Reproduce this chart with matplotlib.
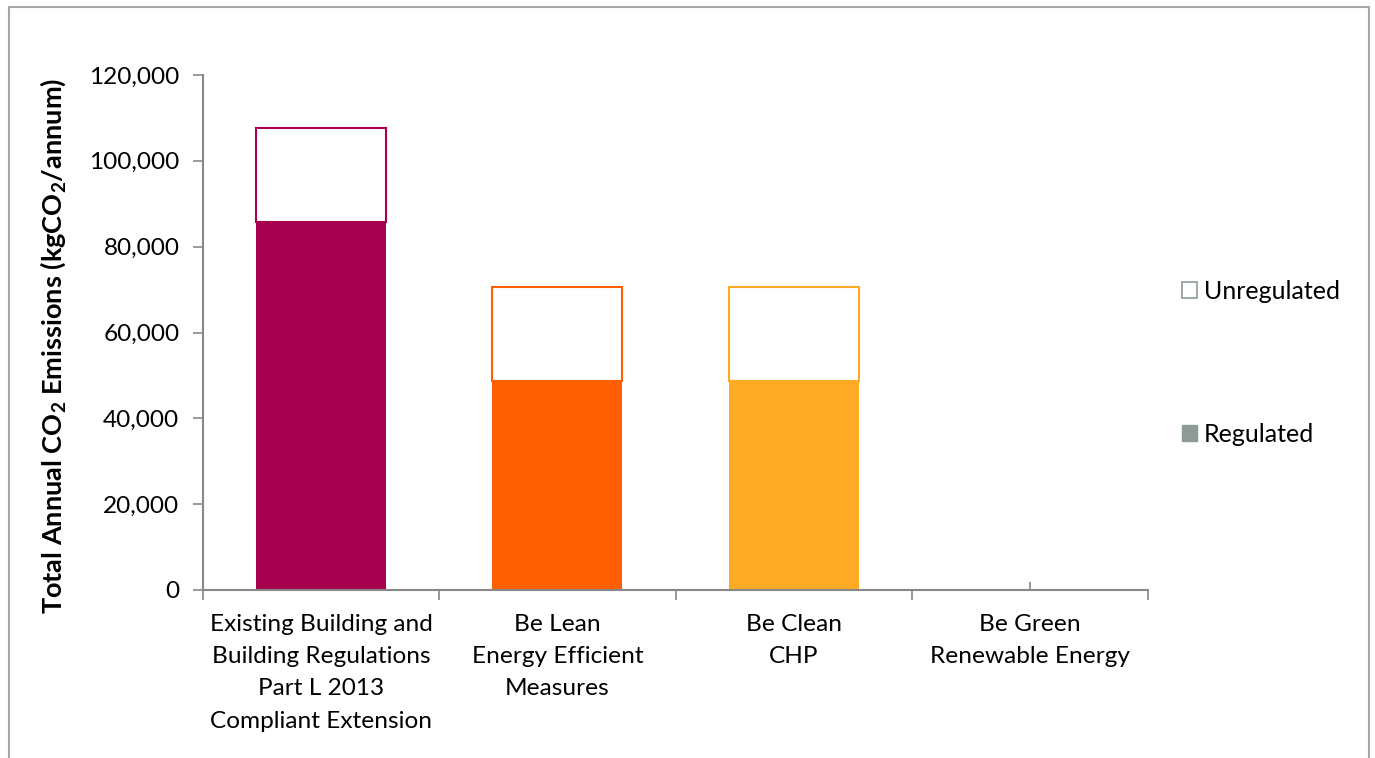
import matplotlib
matplotlib.use("Agg")
import matplotlib.pyplot as plt
from matplotlib.patches import Patch, Rectangle
from matplotlib.ticker import FuncFormatter, FixedLocator
import numpy as np

plt.rcParams['font.family'] = ['Lato', 'DejaVu Sans']
plt.rcParams['mathtext.fontset'] = 'custom'
plt.rcParams['mathtext.bf'] = 'Lato:bold'
plt.rcParams['mathtext.rm'] = 'Lato'

categories = [
    "Existing Building and\nBuilding Regulations\nPart L 2013\nCompliant Extension",
    "Be Lean\nEnergy Efficient\nMeasures",
    "Be Clean\nCHP",
    "Be Green\nRenewable Energy",
]
regulated = [85700, 48600, 48600, 0]
unregulated = [22000, 21900, 21900, 0]
bar_colors = ["#A8004F", "#FF5F00", "#FEAA25", "#7AB648"]
yticks = [0, 20000, 40000, 60000, 80000, 100000, 120000]

W, H = 1375, 758
fig = plt.figure(figsize=(W / 100, H / 100), dpi=100)
ax = fig.add_axes([203 / W, 1 - 590 / H, (1148 - 203) / W, (590 - 75) / H])

x = np.arange(len(categories))
lw = [1.5 if v > 0 else 0 for v in unregulated]
ax.bar(x, regulated, width=0.55, color=bar_colors, linewidth=0, zorder=2)
ax.bar(x, unregulated, bottom=regulated, width=0.55, color="white",
       edgecolor=bar_colors, linewidth=lw, zorder=2)

ax.set_xlim(-0.5, len(categories) - 0.5)
ax.set_ylim(yticks[0], yticks[-1])
ax.set_yticks(yticks)
ax.yaxis.set_major_formatter(FuncFormatter(lambda v, p: f"{v:,.0f}"))

# boundaries as major ticks (outward, no labels), centers as minor ticks (inward, labels)
ax.xaxis.set_major_locator(FixedLocator(np.arange(-0.5, len(categories), 1.0)))
ax.xaxis.set_minor_locator(FixedLocator(x))
ax.set_xticklabels([""] * (len(categories) + 1))
ax.set_xticklabels(categories, minor=True)
ax.tick_params(axis='x', which='major', direction='out', length=7, width=1.2, color="#888888")
ax.tick_params(axis='x', which='minor', direction='in', length=6, width=1.2, color="#888888",
               labelsize=17.6, pad=17)
for lab in ax.get_xticklabels(minor=True):
    lab.set_linespacing(1.67)
    lab.set_verticalalignment('top')
ax.tick_params(axis='y', direction='out', length=7, width=1.2, color="#888888",
               labelsize=17.6, pad=10)

for s in ['top', 'right']:
    ax.spines[s].set_visible(False)
for s in ['left', 'bottom']:
    ax.spines[s].set_color("#888888")
    ax.spines[s].set_linewidth(1.5)

ax.set_ylabel(r"Total Annual CO$_\mathbf{2}$ Emissions (kgCO$_\mathbf{2}$/annum)",
              fontsize=19.5, fontweight='bold')
ax.yaxis.set_label_coords((68 - 203) / (1148 - 203), (590 - 346) / (590 - 75))

handles = [Patch(facecolor="white", edgecolor="#8C9A98", linewidth=1.2),
           Patch(facecolor="#8C9A98", edgecolor="#8C9A98")]
fig.legend(handles, ["Unregulated", "Regulated"], loc="center left",
           bbox_to_anchor=(1159 / W, 1 - 363 / H), frameon=False, fontsize=18,
           handlelength=0.6, handleheight=0.6, handletextpad=0.3, labelspacing=4.8)

fig.patches.append(Rectangle((9 / W, -0.02), (1369 - 9) / W, 1.02 - 7 / H,
                             transform=fig.transFigure, fill=False,
                             edgecolor="#A6A6A6", linewidth=1.5))

fig.savefig("out.png", dpi=100)
